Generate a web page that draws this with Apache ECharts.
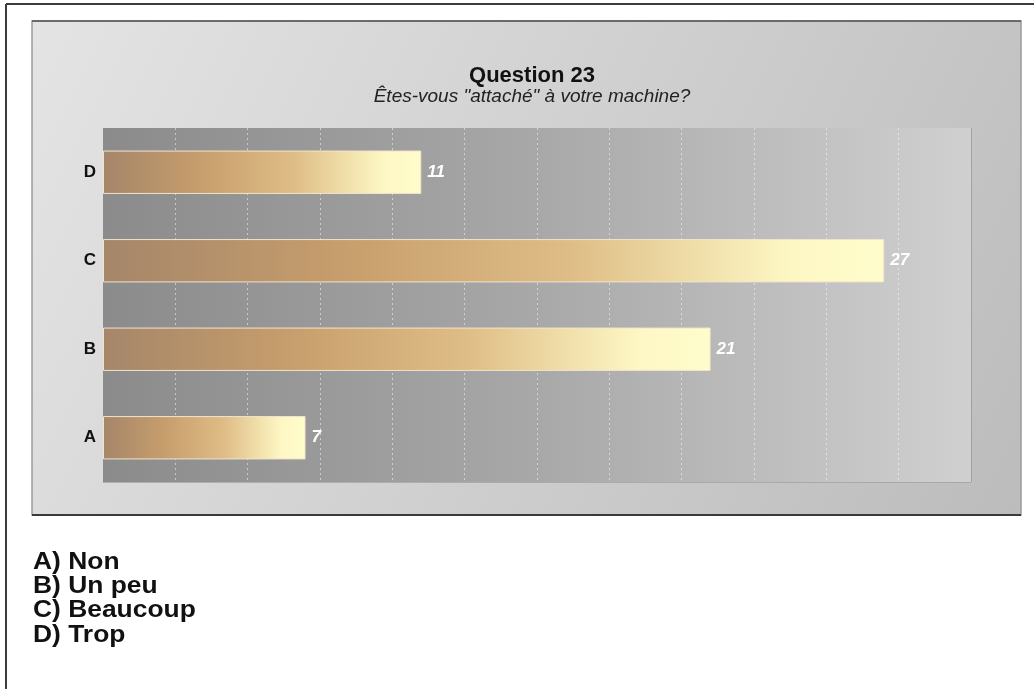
<!DOCTYPE html>
<html>
<head>
<meta charset="utf-8">
<title>Question 23</title>
<script src="https://cdn.jsdelivr.net/npm/echarts@6/dist/echarts.min.js"></script>
<style>
  html, body { margin: 0; padding: 0; background: #ffffff; }
  #chart { width: 1034px; height: 689px; }
</style>
</head>
<body>
<div id="chart"></div>
<script>
// Survey answers for question 23
const categories = ['A', 'B', 'C', 'D'];
const counts = [7, 21, 27, 11];
const answerLabels = ['A) Non', 'B) Un peu', 'C) Beaucoup', 'D) Trop'];
const titleText = 'Question 23';
const subtitleText = 'Êtes-vous "attaché" à votre machine?';

const FONT = '"Liberation Sans", Arial, sans-serif';
const chart = echarts.init(document.getElementById('chart'), null, { renderer: 'canvas' });

// Answer key below the panel (slightly widened bold type)
const keyLines = answerLabels.map((t, i) => ({
  type: 'text',
  x: 33,
  y: 550 + i * 24.3,
  scaleX: 1.1,
  style: { text: t, font: 'bold 24px ' + FONT, fill: '#111111' }
}));

chart.setOption({
  animation: false,
  backgroundColor: '#ffffff',
  title: {
    text: titleText,
    subtext: subtitleText,
    left: 527,
    top: 60,
    textAlign: 'center',
    itemGap: 0,
    textStyle: { fontFamily: FONT, fontWeight: 'bold', fontSize: 22, color: '#111111' },
    subtextStyle: { fontFamily: FONT, fontStyle: 'italic', fontSize: 19, color: '#222222' }
  },
  graphic: [
    // outer frame (top and left edges)
    { type: 'line', z: -10, shape: { x1: 6, y1: 4, x2: 1034, y2: 4 }, style: { stroke: '#3c3c3c', lineWidth: 2 } },
    { type: 'line', z: -10, shape: { x1: 6, y1: 4, x2: 6, y2: 689 }, style: { stroke: '#3c3c3c', lineWidth: 2 } },
    // grey panel behind the chart
    {
      type: 'rect', z: -10,
      shape: { x: 32, y: 21, width: 989, height: 494 },
      style: {
        fill: new echarts.graphic.LinearGradient(0, 0, 1, 1, [
          { offset: 0, color: '#e4e4e4' },
          { offset: 1, color: '#bcbcbc' }
        ]),
        stroke: '#9a9a9a', lineWidth: 1.5
      }
    },
    { type: 'line', z: -9, shape: { x1: 32, y1: 21, x2: 1021, y2: 21 }, style: { stroke: '#555555', lineWidth: 1.5 } },
    { type: 'line', z: -9, shape: { x1: 32, y1: 515, x2: 1021, y2: 515 }, style: { stroke: '#3a3a3a', lineWidth: 2 } },
    // plot area frame shadow (right and bottom)
    { type: 'line', z: -5, shape: { x1: 971, y1: 128, x2: 971, y2: 482 }, style: { stroke: '#969696', lineWidth: 1.5 } },
    { type: 'line', z: -5, shape: { x1: 103, y1: 482, x2: 971, y2: 482 }, style: { stroke: '#a0a0a0', lineWidth: 1.5 } },
    ...keyLines
  ],
  grid: {
    left: 103,
    right: 63,
    top: 128,
    bottom: 207,
    show: true,
    borderWidth: 0,
    backgroundColor: new echarts.graphic.LinearGradient(0, 0, 1, 0, [
      { offset: 0, color: '#8b8b8b' },
      { offset: 0.5, color: '#a8a8a8' },
      { offset: 1, color: '#d0d0d0' }
    ])
  },
  xAxis: {
    type: 'value',
    min: 0,
    max: 30,
    interval: 2.5,
    axisLabel: { show: false },
    axisLine: { show: false },
    axisTick: { show: false },
    splitLine: {
      show: true,
      showMinLine: false,
      showMaxLine: false,
      lineStyle: { color: 'rgba(255,255,255,0.5)', width: 1, type: [2, 3] }
    }
  },
  yAxis: {
    type: 'category',
    data: categories,
    axisLine: { show: false },
    axisTick: { show: false },
    axisLabel: {
      margin: 7,
      fontFamily: FONT,
      fontWeight: 'bold',
      fontSize: 17,
      color: '#111111'
    }
  },
  series: [{
    type: 'bar',
    data: counts,
    barWidth: '49%',
    itemStyle: {
      color: new echarts.graphic.LinearGradient(0, 0, 1, 0, [
        { offset: 0, color: '#a5866a' },
        { offset: 0.3, color: '#c69d6c' },
        { offset: 0.6, color: '#dfbd86' },
        { offset: 0.88, color: '#fdf7c4' },
        { offset: 1, color: '#fffdcc' }
      ]),
      borderColor: '#f1e4cc',
      borderWidth: 1
    },
    label: {
      show: true,
      position: 'right',
      distance: 6,
      fontFamily: FONT,
      fontStyle: 'italic',
      fontWeight: 'bold',
      fontSize: 17,
      color: '#ffffff'
    }
  }]
});
</script>
</body>
</html>
